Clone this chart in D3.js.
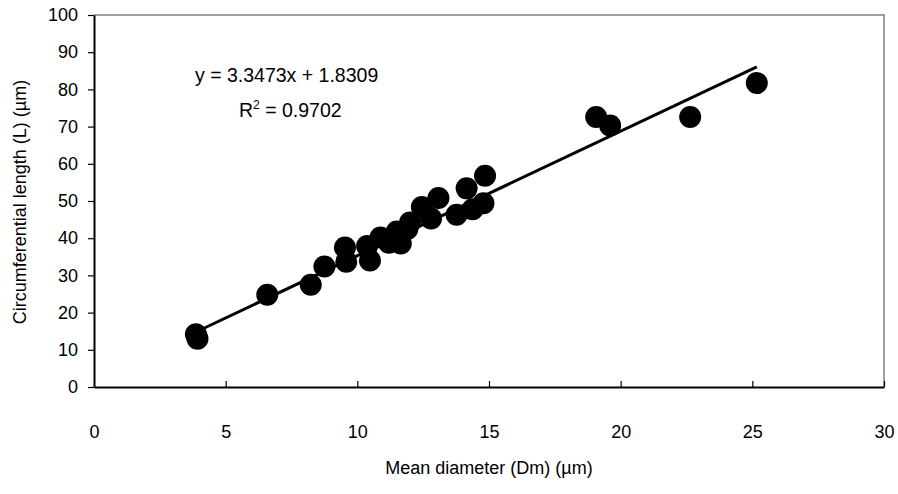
<!DOCTYPE html>
<html>
<head>
<meta charset="utf-8">
<script src="https://cdn.jsdelivr.net/npm/d3@7"></script>
<style>
  body { margin: 0; background: #fff; }
  svg { display: block; font-family: "Liberation Sans", Arial, sans-serif; }
</style>
</head>
<body>
<svg id="chart" width="898" height="494"></svg>
<script>
// data
var diameter = [3.87, 3.93, 6.58, 8.23, 8.75, 9.53, 9.58, 10.37, 10.48, 10.88, 11.2, 11.5, 11.65, 11.9, 12.0, 12.45, 12.8, 13.08, 13.77, 14.15, 14.38, 14.79, 14.85, 19.07, 19.6, 22.64, 25.17];
var circLength = [14.2, 13.0, 24.8, 27.5, 32.4, 37.5, 33.7, 37.9, 34.0, 40.2, 38.8, 41.8, 38.6, 42.5, 44.2, 48.4, 45.3, 50.8, 46.3, 53.4, 47.8, 49.4, 56.8, 72.6, 70.3, 72.6, 81.7];
var xTicks = [0, 5, 10, 15, 20, 25, 30];
var yTicks = [0, 10, 20, 30, 40, 50, 60, 70, 80, 90, 100];
var slope = 3.3473, intercept = 1.8309, r2 = "0.9702";

var svg = d3.select("#chart");
var plotL = 94, plotR = 884, plotT = 15, plotB = 387;

var x = d3.scaleLinear().domain([0, 30]).range([plotL, plotR]);
var y = d3.scaleLinear().domain([0, 100]).range([plotB, plotT]);

// frame (top + right, grey)
svg.append("path")
    .attr("d", "M" + plotL + "," + plotT + "H" + plotR + "V" + plotB)
    .attr("fill", "none")
    .attr("stroke", "#808080")
    .attr("stroke-width", 1.5);

// x axis, ticks pointing up into the plot
var xAxis = svg.append("g")
    .attr("transform", "translate(0," + plotB + ")")
    .call(d3.axisBottom(x).tickValues(xTicks).tickSizeInner(-6).tickSizeOuter(0).tickPadding(38));
xAxis.select(".domain").attr("stroke", "#000").attr("stroke-width", 2);
xAxis.selectAll(".tick line").attr("stroke", "#000").attr("stroke-width", 1.2);
xAxis.selectAll("text").attr("font-size", 18).attr("fill", "#000").attr("font-family", "Liberation Sans, Arial, sans-serif");
xAxis.selectAll(".tick").filter(function (d) { return d === 0; }).select("line").remove();

// y axis, ticks pointing outwards
var yAxis = svg.append("g")
    .attr("transform", "translate(" + plotL + ",0)")
    .call(d3.axisLeft(y).tickValues(yTicks).tickSizeInner(6).tickSizeOuter(0).tickPadding(10));
yAxis.select(".domain").attr("stroke", "#000").attr("stroke-width", 2);
yAxis.selectAll(".tick line").attr("stroke", "#000").attr("stroke-width", 1.2);
yAxis.selectAll("text").attr("font-size", 18).attr("fill", "#000").attr("font-family", "Liberation Sans, Arial, sans-serif");

// points
svg.append("g").selectAll("circle")
    .data(diameter)
    .enter()
    .append("circle")
    .attr("cx", function (d) { return x(d); })
    .attr("cy", function (d, i) { return y(circLength[i]); })
    .attr("r", 11)
    .attr("fill", "#000");

// trend line
var xMin = d3.min(diameter), xMax = d3.max(diameter);
svg.append("line")
    .attr("x1", x(xMin)).attr("y1", y(slope * xMin + intercept))
    .attr("x2", x(xMax)).attr("y2", y(slope * xMax + intercept))
    .attr("stroke", "#000")
    .attr("stroke-width", 3);

// equation
svg.append("text")
    .attr("x", 195).attr("y", 82)
    .attr("font-size", 19.5)
    .text("y = " + slope + "x + " + intercept);
var rt = svg.append("text")
    .attr("x", 239).attr("y", 117)
    .attr("font-size", 19.5);
rt.append("tspan").text("R");
rt.append("tspan").attr("font-size", 12).attr("dy", -8).text("2");
rt.append("tspan").attr("dy", 8).text(" = " + r2);

// axis titles
svg.append("text")
    .attr("x", (plotL + plotR) / 2).attr("y", 474)
    .attr("text-anchor", "middle")
    .attr("font-size", 18)
    .text("Mean diameter (Dm) (µm)");
svg.append("text")
    .attr("transform", "translate(26," + 202 + ") rotate(-90)")
    .attr("text-anchor", "middle")
    .attr("font-size", 18)
    .text("Circumferential length (L) (µm)");
</script>
</body>
</html>
